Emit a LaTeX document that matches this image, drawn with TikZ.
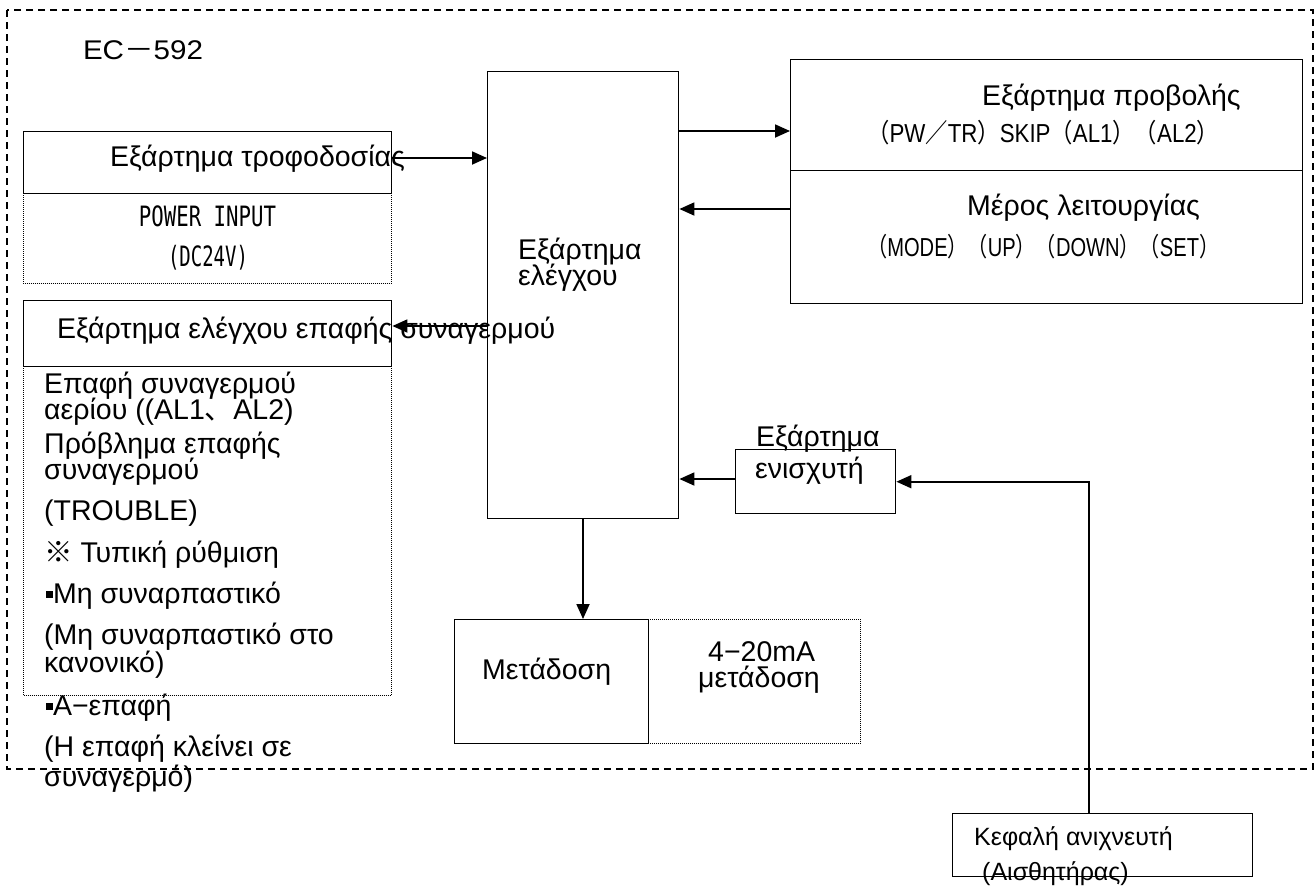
\documentclass[tikz,border=0pt]{standalone}
\usepackage{fontspec}
\setmainfont{Liberation Sans}
\newfontfamily\cjk{Noto Sans CJK JP}
\newfontfamily\monof{DejaVu Sans Mono}
\usetikzlibrary{arrows.meta}
\newcommand{\sqb}{\rule[0.2em]{0.24em}{0.24em}}
\begin{document}
\begin{tikzpicture}[x=1pt,y=-1pt,
  box/.style={draw, line width=1.4pt, inner sep=0, anchor=north west},
  area/.style={inner sep=0, anchor=north west},
  dotl/.style={line width=0.9pt, dash pattern=on 1pt off 1pt},
  frame/.style={line width=1.1pt, dash pattern=on 7pt off 5pt},
  arr/.style={line width=1.8pt, -{Triangle[length=15pt,width=13pt]}},
  txt/.style={inner sep=0, anchor=west, font=\fontsize{28.5}{30}\selectfont},
  small/.style={txt, font=\fontsize{25}{27}\selectfont},
  mono/.style={inner sep=0, font=\monof\fontsize{28}{30}\selectfont},
  gothic/.style={inner sep=0, anchor=west, font=\fontsize{26}{28}\selectfont}]
\useasboundingbox (0,0) rectangle (1316,886);
\fill[white] (0,0) rectangle (1316,886);
% outer frame
\draw[frame] (7,10) rectangle (1313,769);
\node[inner sep=0, font=\fontsize{27}{29}\selectfont] (ec) at (143,50) {\resizebox{120pt}{\height}{EC{\cjk －}592}};

% power
\node[box, minimum width=368pt, minimum height=62pt] (pwr) at (23,131) {};
\node[area, minimum width=368pt, minimum height=90pt] (pwrx) at (23,193) {};
\draw[dotl] (pwrx.north west) -- (pwrx.south west) -- (pwrx.south east) -- (pwrx.north east);
\node[txt] (pwrt) at (110,159) {Εξάρτημα τροφοδοσίας};
\node[mono] (pin) at (207.5,216) {\resizebox{137pt}{\height}{POWER INPUT}};
\node[mono] (pdc) at (208,258) {\resizebox{80pt}{\height}{(DC24V)}};

% control
\node[box, minimum width=191pt, minimum height=447pt] (ctrl) at (487,71) {};
\node[txt] (ctrl1) at (518,252) {Εξάρτημα};
\node[txt] (ctrl2) at (518,278) {ελέγχου};

% display / operation
\node[box, minimum width=512pt, minimum height=111pt] (disp) at (790,59) {};
\node[box, minimum width=512pt, minimum height=133pt] (oper) at (790,170) {};
\node[txt] (dispt) at (982,98) {Εξάρτημα προβολής};
\node[gothic] (displ) at (867,133) {\resizebox{352pt}{\height}{{\cjk （}PW{\cjk ／}TR{\cjk ）}SKIP{\cjk （}AL1{\cjk ）（}AL2{\cjk ）}}};
\node[txt] (opert) at (967,208) {Μέρος λειτουργίας};
\node[gothic] (operl) at (867,247) {\resizebox{352pt}{\height}{{\cjk （}MODE{\cjk ）（}UP{\cjk ）（}DOWN{\cjk ）（}SET{\cjk ）}}};

% alarm
\node[box, minimum width=368pt, minimum height=66pt] (alm) at (23,300) {};
\node[area, minimum width=368pt, minimum height=329pt] (almx) at (23,366) {};
\draw[dotl] (almx.north west) -- (almx.south west) -- (almx.south east) -- (almx.north east);
\node[txt] (almt) at (57,331) {Εξάρτημα ελέγχου επαφής συναγερμού};
\node[txt] (l1) at (44,386) {Επαφή συναγερμού};
\node[txt] (l2) at (44,412) {αερίου ((AL1{\cjk 、}AL2)};
\node[txt] (l3) at (44,446) {Πρόβλημα επαφής};
\node[txt] (l4) at (44,472) {συναγερμού};
\node[txt] (l5) at (44,513) {(TROUBLE)};
\node[txt] (l6) at (44,555) {{\cjk ※} Τυπική ρύθμιση};
\node[txt] (l7) at (46,596) {\sqb Μη συναρπαστικό};
\node[txt] (l8) at (44,637) {(Μη συναρπαστικό στο};
\node[txt] (l9) at (44,665) {κανονικό)};
\node[txt] (l10) at (46,708) {\sqb A−επαφή};
\node[txt] (l11) at (44,749) {(Η επαφή κλείνει σε};
\node[txt] (l12) at (44,779) {συναγερμό)};

% amplifier
\node[box, minimum width=160pt, minimum height=64pt] (amp) at (735,449) {};
\node[txt] (amp1) at (756,439) {Εξάρτημα};
\node[txt] (amp2) at (755,471) {ενισχυτή};

% transmission
\node[box, minimum width=194pt, minimum height=124pt] (trn) at (454,619) {};
\node[area, minimum width=212pt, minimum height=124pt] (trnx) at (648,619) {};
\draw[dotl] (trnx.north west) -- (trnx.north east) -- (trnx.south east) -- (trnx.south west);
\node[txt] (trnt) at (482,672) {Μετάδοση};
\node[txt] (trn1) at (708,652) {4−20mA};
\node[txt] (trn2) at (698,680) {μετάδοση};

% detector head
\node[box, minimum width=300pt, minimum height=63pt] (det) at (952,813) {};
\node[small] (det1) at (974,839) {Κεφαλή ανιχνευτή};
\node[small] (det2) at (982,874) {(Αισθητήρας)};

% connectors
\draw[arr] (pwr.east |- 0,158) -- (ctrl.west |- 0,158);
\draw[arr] (ctrl.east |- 0,131) -- (disp.west |- 0,131);
\draw[arr] (oper.west |- 0,209) -- (ctrl.east |- 0,209);
\draw[arr] (ctrl.west |- 0,326) -- (alm.east |- 0,326);
\draw[arr] (amp.west |- 0,479) -- (ctrl.east |- 0,479);
\draw[arr] ([xshift=-14pt]det.north) |- (amp.east);
\draw[arr] (ctrl.south -| 583,0) -- (trn.north -| 583,0);
\end{tikzpicture}
\end{document}
